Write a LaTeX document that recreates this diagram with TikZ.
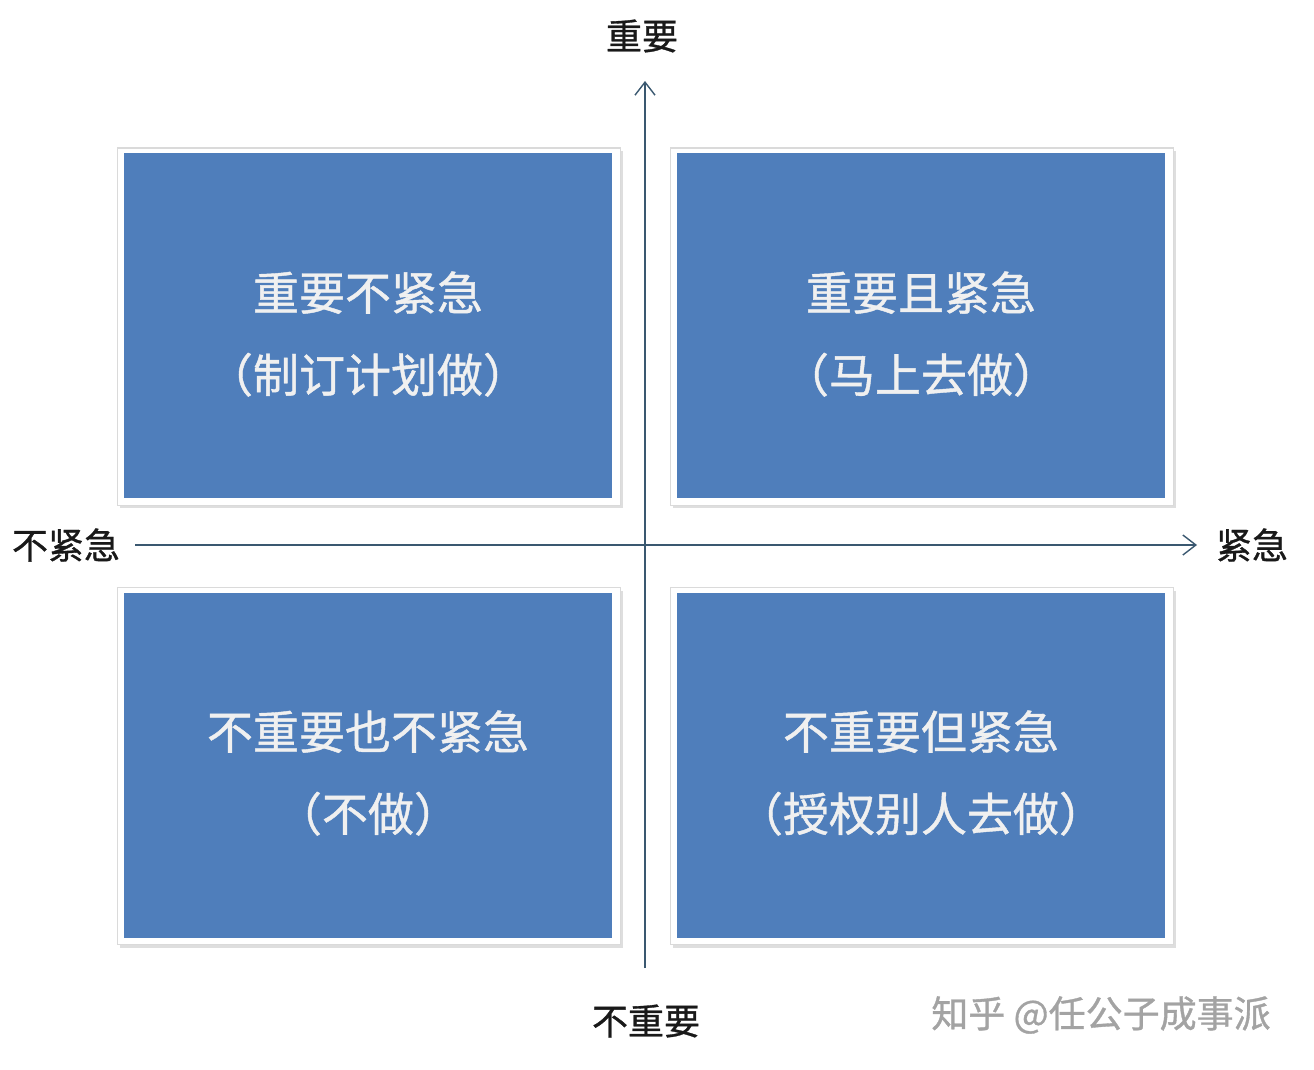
\documentclass[tikz,border=0pt]{standalone}
\usepackage{fontspec}
\setmainfont{Noto Sans CJK SC}
\newfontfamily\medfont[FakeBold=0.9]{Noto Sans CJK SC}
\usetikzlibrary{arrows.meta}
\definecolor{boxblue}{HTML}{4F7EBB}
\definecolor{axiscol}{HTML}{3A5870}
\definecolor{framegray}{HTML}{DADADA}
\definecolor{shadowgray}{HTML}{C8C8C8}
\definecolor{wmgray}{HTML}{A3A3A3}
\definecolor{boxtext}{HTML}{F0F0F0}
\tikzset{
  frame/.style={draw=framegray, line width=1pt, fill=white, minimum width=503pt, minimum height=357pt, inner sep=0pt},
  shadowbox/.style={fill=shadowgray, minimum width=503pt, minimum height=357pt, inner sep=0pt, opacity=0.6},
  bluebox/.style={fill=boxblue, minimum width=488pt, minimum height=345pt, inner sep=0pt},
  boxlabel/.style={text=boxtext, align=center, font=\medfont\fontsize{46}{82}\selectfont, inner sep=0pt},
  axislabel/.style={text=black!90, font=\medfont\fontsize{36}{40}\selectfont, inner sep=0pt},
  axisline/.style={draw=axiscol, line width=1.8pt, -{Straight Barb[length=13pt,width=20pt,line width=1.4pt]}},
}
\begin{document}
\begin{tikzpicture}[x=1pt,y=-1pt]
\useasboundingbox (0,0) rectangle (1314,1070);
\fill[white] (0,0) rectangle (1314,1070);
% shadows
\node[shadowbox] (s1) at (371,329) {};
\node[shadowbox] (s2) at (924,329) {};
\node[shadowbox] (s3) at (371,769) {};
\node[shadowbox] (s4) at (924,769) {};
% frames
\node[frame] (f1) at (368.5,326.5) {};
\node[frame] (f2) at (921.5,326.5) {};
\node[frame] (f3) at (368.5,766) {};
\node[frame] (f4) at (921.5,766) {};
% blue boxes
\node[bluebox] (b1) at (368,325.5) {};
\node[bluebox] (b2) at (921,325.5) {};
\node[bluebox] (b3) at (368,765) {};
\node[bluebox] (b4) at (921,765) {};
% box labels
\node[boxlabel] (l1) at (368,334) {重要不紧急\\（制订计划做）};
\node[boxlabel] (l2) at (921,334) {重要且紧急\\（马上去做）};
\node[boxlabel] (l3) at (368,773) {不重要也不紧急\\（不做）};
\node[boxlabel] (l4) at (921,773) {不重要但紧急\\（授权别人去做）};
% axes
\coordinate (vbot) at (645,968);
\coordinate (vtop) at (645,81);
\coordinate (hleft) at (135,545);
\coordinate (hright) at (1197,545);
\draw[axisline] (vbot) -- (vtop);
\draw[axisline] (hleft) -- (hright);
% axis labels
\node[axislabel] (top) at (642,36) {重要};
\node[axislabel] (bottom) at (646,1021) {不重要};
\node[axislabel] (left) at (66,545) {不紧急};
\node[axislabel] (right) at (1252,545) {紧急};
% watermark
\node[text=wmgray, font=\medfont\fontsize{37}{40}\selectfont, inner sep=0pt] (wm) at (1101,1015) {知乎 @任公子成事派};
\end{tikzpicture}
\end{document}
